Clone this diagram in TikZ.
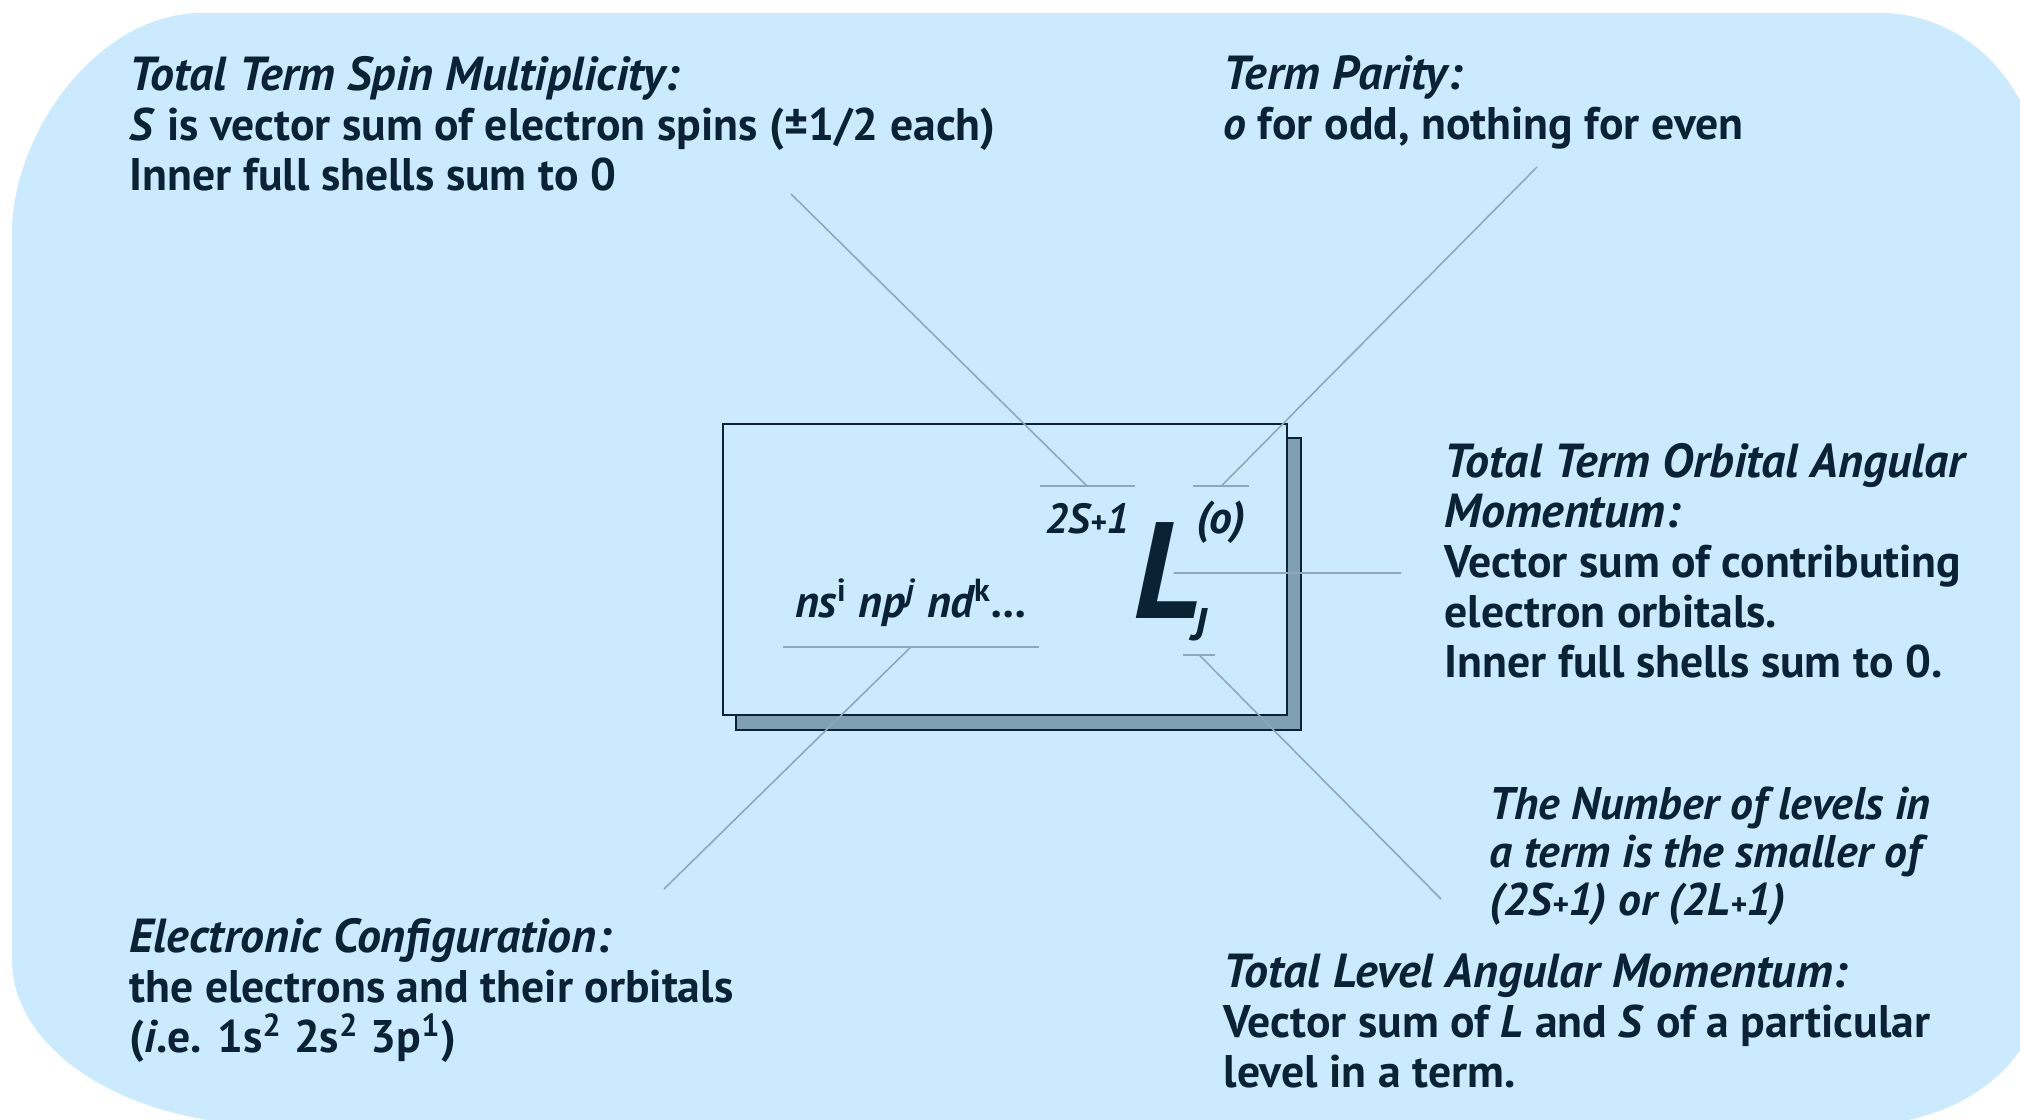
\documentclass[tikz,border=0pt]{standalone}
\usepackage{fontspec}
\setmainfont{PT Sans}
\usetikzlibrary{positioning}

\definecolor{skyfill}{HTML}{CCEAFD}
\definecolor{inkblue}{HTML}{0B2234}
\definecolor{shadowgray}{HTML}{7F9FB3}
\definecolor{leadgray}{HTML}{8FA8B9}

\tikzset{
  note/.style={anchor=base west, align=left, inner sep=0pt, text=inkblue,
    font=\fontsize{13}{14.2}\selectfont\bfseries},
  sym/.style={inner sep=0pt, text=inkblue, font=\bfseries\itshape},
  lead/.style={leadgray, line width=0.45pt},
  card/.style={draw=inkblue, line width=0.8pt}
}
\newcommand{\hd}[1]{{\fontsize{13.6}{14.2}\selectfont\itshape #1}}
\newcommand{\splus}{{\fontsize{9}{9}\selectfont+}}

\begin{document}
\begin{tikzpicture}[x=0.1mm,y=-0.1mm]
  \useasboundingbox (0,0) rectangle (2020,1119);
  \clip (0,0) rectangle (2020,1119);
  % rounded backdrop
  \fill[skyfill] (12,233) .. controls (12,134) and (97,13) .. (202,13)
    -- (1880,13) .. controls (1968,13) and (2040,89) .. (2040,183)
    -- (2040,987) .. controls (2040,1063) and (1959,1125) .. (1860,1125)
    -- (272,1125) .. controls (128,1125) and (12,1051) .. (12,960) -- cycle;

  % card with shadow
  \filldraw[card, fill=shadowgray] (736,438) rectangle (1301,730);
  \filldraw[card, fill=skyfill] (723,424) rectangle (1287,715);

  % term symbol pieces
  \node[sym, anchor=base west, font=\fontsize{13}{13}\selectfont\bfseries\itshape,
    text depth=8.25pt, minimum width=72.5pt] (orbs) at (783,617)
    {ns\textsuperscript{\upshape i} np\textsuperscript{j} nd\textsuperscript{\upshape k}...};
  \node[sym, anchor=base west, font=\fontsize{12}{12}\selectfont\bfseries\itshape,
    text height=13.1pt, minimum width=26.5pt] (mult) at (1040,533) {2S\splus1};
  \node[sym, anchor=base west, font=\fontsize{39}{39}\selectfont\bfseries\itshape,
    text height=25.6pt, text depth=0pt] (bigL) at (1133,618) {L};
  \node[sym, anchor=base west, font=\fontsize{13}{13}\selectfont\bfseries\itshape,
    text height=13.1pt, minimum width=15.6pt] (par) at (1193,533) {(o)};
  \node[sym, anchor=base, font=\fontsize{13}{13}\selectfont\bfseries\itshape,
    text depth=4pt, minimum width=8.8pt] (lvl) at (1199,640) {J};

  % free ends of the leads
  \coordinate (spinend) at (791,194);
  \coordinate (parend) at (1537,167);
  \coordinate (orbend) at (1401,573);
  \coordinate (lvlend) at (1441,899);
  \coordinate (cfgend) at (664,889);

  % leads
  \draw[lead] (mult.north west) -- (mult.north east);
  \draw[lead] (mult.north) -- (spinend);
  \draw[lead] (par.north west) -- (par.north east);
  \draw[lead] (par.north) -- (parend);
  \draw[lead, shorten <=0.6mm] (bigL.center) -- (orbend);
  \draw[lead] (lvl.south west) -- (lvl.south east);
  \draw[lead] (lvl.south) -- (lvlend);
  \draw[lead] (orbs.south west) -- (orbs.south east);
  \draw[lead] (orbs.south) -- (cfgend);

  % explanations (placed by the baseline of their last line)
  \node[note] (spin) at (129,190) {\hd{Total Term Spin Multiplicity:}\\
    \textit{S} is vector sum of electron spins (±1/2 each)\\
    Inner full shells sum to 0};
  \node[note] (parity) at (1223,139) {\hd{Term Parity:}\\
    \textit{o} for odd, nothing for even};
  \node[note] (orbital) at (1444,677) {\hd{Total Term Orbital Angular}\\
    \hd{Momentum:}\\
    Vector sum of contributing\\
    electron orbitals.\\
    Inner full shells sum to 0.};
  \node[note, font=\fontsize{13}{13.6}\selectfont\bfseries\itshape] (count) at (1489,915)
    {The Number of levels in\\
    a term is the smaller of\\
    (2S\splus1) or (2L\splus1)};
  \node[note] (level) at (1223,1087) {\hd{Total Level Angular Momentum:}\\
    Vector sum of \textit{L} and \textit{S} of a particular\\
    level in a term.};
  \node[note] (config) at (129,1052) {\hd{Electronic Configuration:}\\
    the electrons and their orbitals\\
    (\textit{i}.e. 1s\textsuperscript{2} 2s\textsuperscript{2} 3p\textsuperscript{1})};
\end{tikzpicture}
\end{document}
